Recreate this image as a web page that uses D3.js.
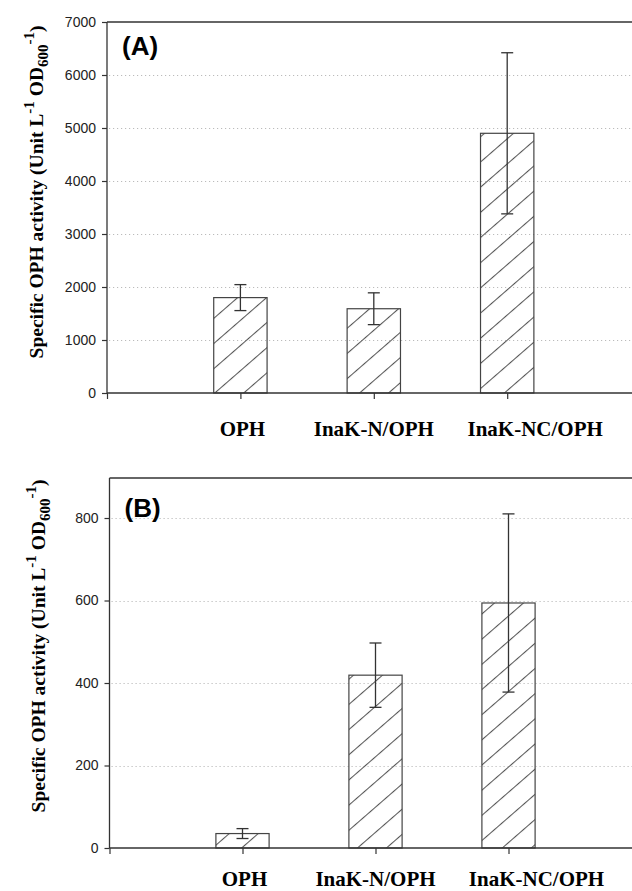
<!DOCTYPE html>
<html>
<head>
<meta charset="utf-8">
<script src="https://cdn.jsdelivr.net/npm/d3@7"></script>
<style>
  body { margin: 0; background: #fff; }
  svg { display: block; }
</style>
</head>
<body>
<svg id="chart" width="632" height="891"></svg>
<script>
  // values
  var categories = ["OPH", "InaK-N/OPH", "InaK-NC/OPH"];
  var activityA = [1800, 1590, 4900];
  var errorA = [245, 300, 1520];
  var activityB = [35, 419, 594];
  var errorB = [12, 78, 216];
  var ticksA = [0, 1000, 2000, 3000, 4000, 5000, 6000, 7000];
  var ticksB = [0, 200, 400, 600, 800];

  var svg = d3.select("#chart");

  // diagonal hatch
  var defs = svg.append("defs");
  defs.append("pattern")
    .attr("id", "hatch")
    .attr("patternUnits", "userSpaceOnUse")
    .attr("width", 10)
    .attr("height", 19)
    .attr("patternTransform", "rotate(-41)")
    .append("line")
    .attr("x1", 0).attr("y1", 0.5)
    .attr("x2", 10).attr("y2", 0.5)
    .attr("stroke", "#555")
    .attr("stroke-width", 1.1);

  function drawPanel(opt) {
    var g = svg.append("g");

    var x = d3.scaleLinear().domain([0, 4]).range([opt.left, opt.left + 4 * opt.step]);
    var y = d3.scaleLinear().domain([0, opt.max]).range([opt.bottom, opt.top]);

    var rows = categories.map(function(c, i) {
      return { name: c, pos: i + 1, value: opt.values[i], err: opt.errors[i] };
    });

    // dotted grid lines
    g.append("g")
      .selectAll("line")
      .data(opt.ticks.filter(function(t) { return t > 0 && t < opt.max - 1e-9 && t !== 7000; }))
      .enter().append("line")
      .attr("x1", opt.left + 2)
      .attr("x2", 632)
      .attr("y1", function(d) { return Math.round(y(d)) + 0.5; })
      .attr("y2", function(d) { return Math.round(y(d)) + 0.5; })
      .attr("stroke", "#bbb")
      .attr("stroke-width", 1)
      .attr("stroke-dasharray", "1.2,2.8");

    // bars
    var bw = x(0.4) - x(0);
    g.append("g")
      .selectAll("rect")
      .data(rows)
      .enter().append("rect")
      .attr("x", function(d) { return x(d.pos) - bw / 2; })
      .attr("y", function(d) { return y(d.value); })
      .attr("width", bw)
      .attr("height", function(d) { return y(0) - y(d.value); })
      .attr("fill", "url(#hatch)")
      .attr("stroke", "#444")
      .attr("stroke-width", 1.2);

    // error bars
    var eb = g.append("g").attr("stroke", "#333").attr("stroke-width", 1.3);
    rows.forEach(function(d) {
      var cx = x(d.pos);
      eb.append("line").attr("x1", cx).attr("x2", cx)
        .attr("y1", y(d.value + d.err)).attr("y2", y(d.value - d.err));
      eb.append("line").attr("x1", cx - 6).attr("x2", cx + 6)
        .attr("y1", y(d.value + d.err)).attr("y2", y(d.value + d.err));
      eb.append("line").attr("x1", cx - 6).attr("x2", cx + 6)
        .attr("y1", y(d.value - d.err)).attr("y2", y(d.value - d.err));
    });

    // y axis
    var yAxis = g.append("g")
      .attr("transform", "translate(" + opt.left + ",0)")
      .call(d3.axisLeft(y).tickValues(opt.ticks).tickSize(5).tickPadding(6).tickFormat(d3.format("d")));
    yAxis.select(".domain").remove();
    yAxis.selectAll("line").attr("stroke", "#333").attr("stroke-width", 1.2);
    yAxis.selectAll("text")
      .attr("fill", "#222")
      .style("font-family", "Liberation Sans, Arial, sans-serif")
      .style("font-size", "14px");

    // x axis ticks (pointing down)
    var xAxis = g.append("g")
      .attr("transform", "translate(0," + opt.bottom + ")")
      .call(d3.axisBottom(x).tickValues([0, 1, 2, 3]).tickSize(6).tickFormat(""));
    xAxis.select(".domain").remove();
    xAxis.selectAll("line").attr("stroke", "#333").attr("stroke-width", 1.2);

    // frame lines: left, top, bottom
    g.append("line").attr("x1", opt.left).attr("x2", opt.left)
      .attr("y1", opt.top).attr("y2", opt.bottom)
      .attr("stroke", "#333").attr("stroke-width", 1.3);
    g.append("line").attr("x1", opt.left).attr("x2", 632)
      .attr("y1", opt.top).attr("y2", opt.top)
      .attr("stroke", "#333").attr("stroke-width", 1.3);
    g.append("line").attr("x1", opt.left).attr("x2", 632)
      .attr("y1", opt.bottom).attr("y2", opt.bottom)
      .attr("stroke", "#333").attr("stroke-width", 1.3);

    // category labels
    var shift = [2, 0, 28];
    g.append("g")
      .selectAll("text")
      .data(rows)
      .enter().append("text")
      .attr("x", function(d, i) { return x(d.pos) + shift[i]; })
      .attr("y", opt.labelY)
      .attr("text-anchor", "middle")
      .style("font-family", "Liberation Serif, Times New Roman, serif")
      .style("font-weight", "bold")
      .style("font-size", "21px")
      .text(function(d) { return d.name; });

    // panel tag
    g.append("text")
      .attr("x", opt.left + 15)
      .attr("y", opt.tagY)
      .style("font-family", "Liberation Sans, Arial, sans-serif")
      .style("font-weight", "bold")
      .style("font-size", "26px")
      .text(opt.tag);

    // y axis title
    var yt = g.append("text")
      .attr("transform", "translate(" + opt.titleX + "," + opt.titleY + ") rotate(-90)")
      .attr("text-anchor", "middle")
      .style("font-family", "Liberation Serif, Times New Roman, serif")
      .style("font-weight", "bold")
      .style("font-size", "19.5px");
    yt.append("tspan").text("Specific OPH activity (Unit L");
    yt.append("tspan").attr("dy", -9).style("font-size", "15px").text("-1");
    yt.append("tspan").attr("dy", 9).text(" OD");
    yt.append("tspan").attr("dy", 5).style("font-size", "15px").text("600");
    yt.append("tspan").attr("dy", -14).style("font-size", "15px").text("-1");
    yt.append("tspan").attr("dy", 9).text(")");
  }

  drawPanel({
    tag: "(A)", values: activityA, errors: errorA, ticks: ticksA, max: 7000,
    left: 107, step: 133.4, top: 22, bottom: 393,
    labelY: 436, tagY: 55, titleX: 43, titleY: 192
  });

  drawPanel({
    tag: "(B)", values: activityB, errors: errorB, ticks: ticksB, max: 897,
    left: 109.5, step: 133, top: 478, bottom: 848,
    labelY: 886, tagY: 517, titleX: 45, titleY: 646
  });
</script>
</body>
</html>
